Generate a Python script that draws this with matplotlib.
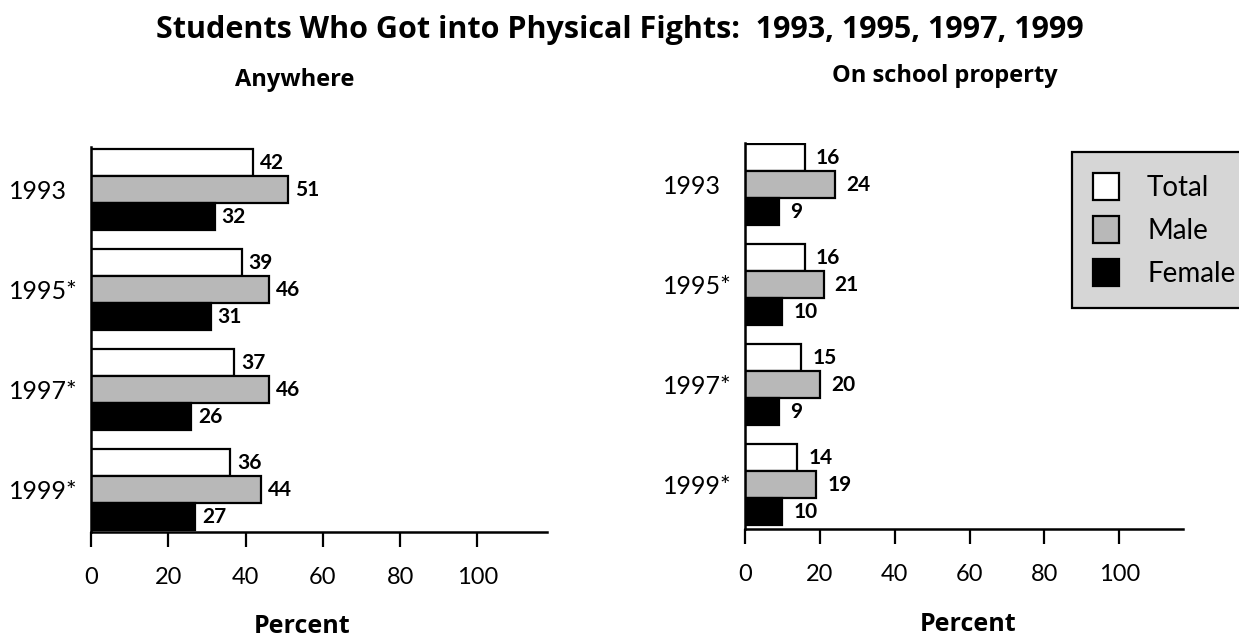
# -*- coding: utf-8 -*-

import numpy as np
import matplotlib
matplotlib.use('Agg')
import matplotlib.pyplot as plt
from matplotlib.patches import Patch

# Datos
years = ['1993', '1995*', '1997*', '1999*']
series = ['Total', 'Male', 'Female']

anywhere_total = [42, 39, 37, 36]
anywhere_male = [51, 46, 46, 44]
anywhere_female = [32, 31, 26, 27]

school_total = [16, 16, 15, 14]
school_male = [24, 21, 20, 19]
school_female = [9, 10, 9, 10]

x_ticks = [0, 20, 40, 60, 80, 100]

plt.rcParams['font.family'] = ['Lato', 'DejaVu Sans']
BOLD_FONT = ['Open Sans', 'DejaVu Sans']

colors = ['white', '#b8b8b8', 'black']
BAR_H = 0.27


def plot_panel(ax, values, label_pad, ylim, xmax, label_x):
    """Barras horizontales agrupadas para un panel"""
    pos = np.arange(len(years))
    offsets = [-BAR_H, 0, BAR_H]
    for vals, off, c in zip(values, offsets, colors):
        bars = ax.barh(pos + off, vals, height=BAR_H, color=c,
                       edgecolor='black', linewidth=1.6)
        ax.bar_label(bars, labels=[str(v) for v in vals], padding=label_pad,
                     fontsize=15, fontweight='bold')

    ax.set_xlim(0, xmax)
    ax.set_ylim(*ylim)

    # Ejes
    for s in ['top', 'right']:
        ax.spines[s].set_visible(False)
    for s in ['left', 'bottom']:
        ax.spines[s].set_linewidth(1.8)

    ax.set_xticks(x_ticks)
    ax.tick_params(axis='x', direction='out', length=11, width=1.6,
                   pad=14, labelsize=17)

    ax.set_yticks(pos, years)
    ax.tick_params(axis='y', length=0, pad=label_x, labelsize=18)
    for lbl in ax.get_yticklabels():
        lbl.set_horizontalalignment('left')

    ax.set_xlabel('Percent', fontsize=18, fontweight='bold', family=BOLD_FONT)


def main():
    fig = plt.figure(figsize=(12.39, 6.44), dpi=100)

    ax1 = fig.add_axes([0.0734, 0.1739, 0.368, 0.5978])
    ax2 = fig.add_axes([0.6013, 0.1786, 0.3535, 0.5994])

    plot_panel(ax1, [anywhere_total, anywhere_male, anywhere_female],
               label_pad=5, ylim=(3.425, -0.425), xmax=118, label_x=59)
    plot_panel(ax2, [school_total, school_male, school_female],
               label_pad=8, ylim=(3.44, -0.42), xmax=117, label_x=59)

    ax1.xaxis.set_label_coords(0.463, -0.212)
    ax2.xaxis.set_label_coords(0.509, -0.215)

    # Titulos
    fig.text(0.5, 1 - 38 / 644,
             'Students Who Got into Physical Fights:  1993, 1995, 1997, 1999',
             ha='center', va='baseline', fontsize=22, fontweight='bold',
             family=BOLD_FONT)
    fig.text(295 / 1239, 1 - 86 / 644, 'Anywhere', ha='center',
             va='baseline', fontsize=17, fontweight='bold', family=BOLD_FONT)
    fig.text(945 / 1239, 1 - 82 / 644, 'On school property', ha='center',
             va='baseline', fontsize=17, fontweight='bold', family=BOLD_FONT)

    # Leyenda
    handles = [Patch(facecolor=c, edgecolor='black', linewidth=1.6)
               for c in colors]
    leg = fig.legend(handles, series, loc='upper left',
                     bbox_to_anchor=(1072 / 1239, 1 - 152 / 644),
                     fontsize=20, frameon=True, fancybox=False,
                     handlelength=0.95, handleheight=1.1, labelspacing=0.55,
                     handletextpad=1.0, borderpad=0.75, borderaxespad=0)
    leg.get_frame().set_facecolor('#d6d6d6')
    leg.get_frame().set_edgecolor('black')
    leg.get_frame().set_linewidth(1.6)
    leg.get_frame().set_alpha(1)

    fig.savefig('out.png', dpi=100)
    plt.close(fig)


if __name__ == '__main__':
    main()
